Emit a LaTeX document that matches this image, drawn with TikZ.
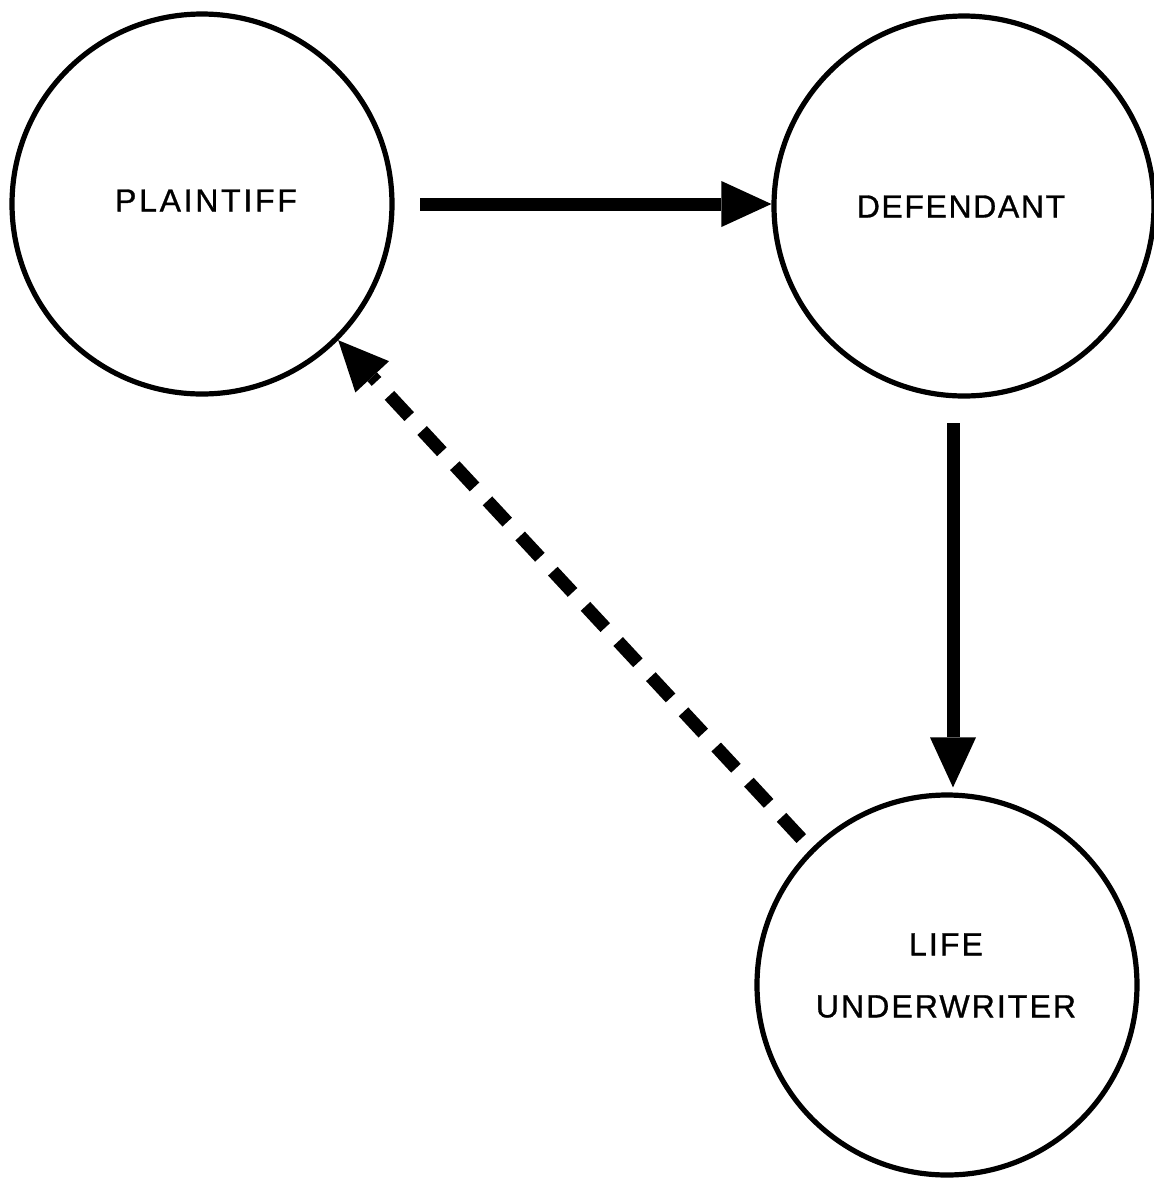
\documentclass[tikz,border=0pt]{standalone}
\usepackage{fontspec}
\setmainfont{Liberation Sans}
\usetikzlibrary{arrows.meta}
\begin{document}
\begin{tikzpicture}[x=0.5pt,y=-0.5pt,
  party/.style={circle, draw=black, line width=2.6pt, minimum size=190pt, inner sep=0pt},
  lbl/.style={align=center, inner sep=0pt},
  flow/.style={line width=6.5pt, draw=black, -{Triangle[length=25pt,width=23pt,line width=0pt]}},
  backflow/.style={flow, dash pattern=on 14.5pt off 9.5pt}
]
\useasboundingbox (0,0) rectangle (1154,1180);

% the three parties
\node[party] (pl) at (202,204) {};
\node[party] (df) at (964,206) {};
\node[party] (lu) at (947,985) {};

% their labels
\node[lbl, font={\fontsize{16pt}{31pt}\selectfont\addfontfeature{LetterSpace=8.5,FakeBold=0.9}}] (plt) at (206,200.5) {PLAINTIFF};
\node[lbl, font={\fontsize{16pt}{31pt}\selectfont\addfontfeature{LetterSpace=5,FakeBold=0.9}}] (dft) at (961,206.5) {DEFENDANT};
\node[lbl, font={\fontsize{16pt}{31pt}\selectfont\addfontfeature{LetterSpace=6.5,FakeBold=0.9}}] (lut) at (946,975.5) {LIFE\\UNDERWRITER};

% plaintiff -> defendant
\coordinate (h0) at (420,204);
\draw[flow] (h0) -- (h0 -| df.west);

% defendant -> life underwriter
\coordinate (v0) at (953,423);
\draw[flow, shorten >=2.5pt] (v0) -- (v0 |- lu.north);

% life underwriter -> plaintiff (dashed)
\draw[backflow, shorten <=7pt] (lu.135) -- (pl.-45);
\end{tikzpicture}
\end{document}
